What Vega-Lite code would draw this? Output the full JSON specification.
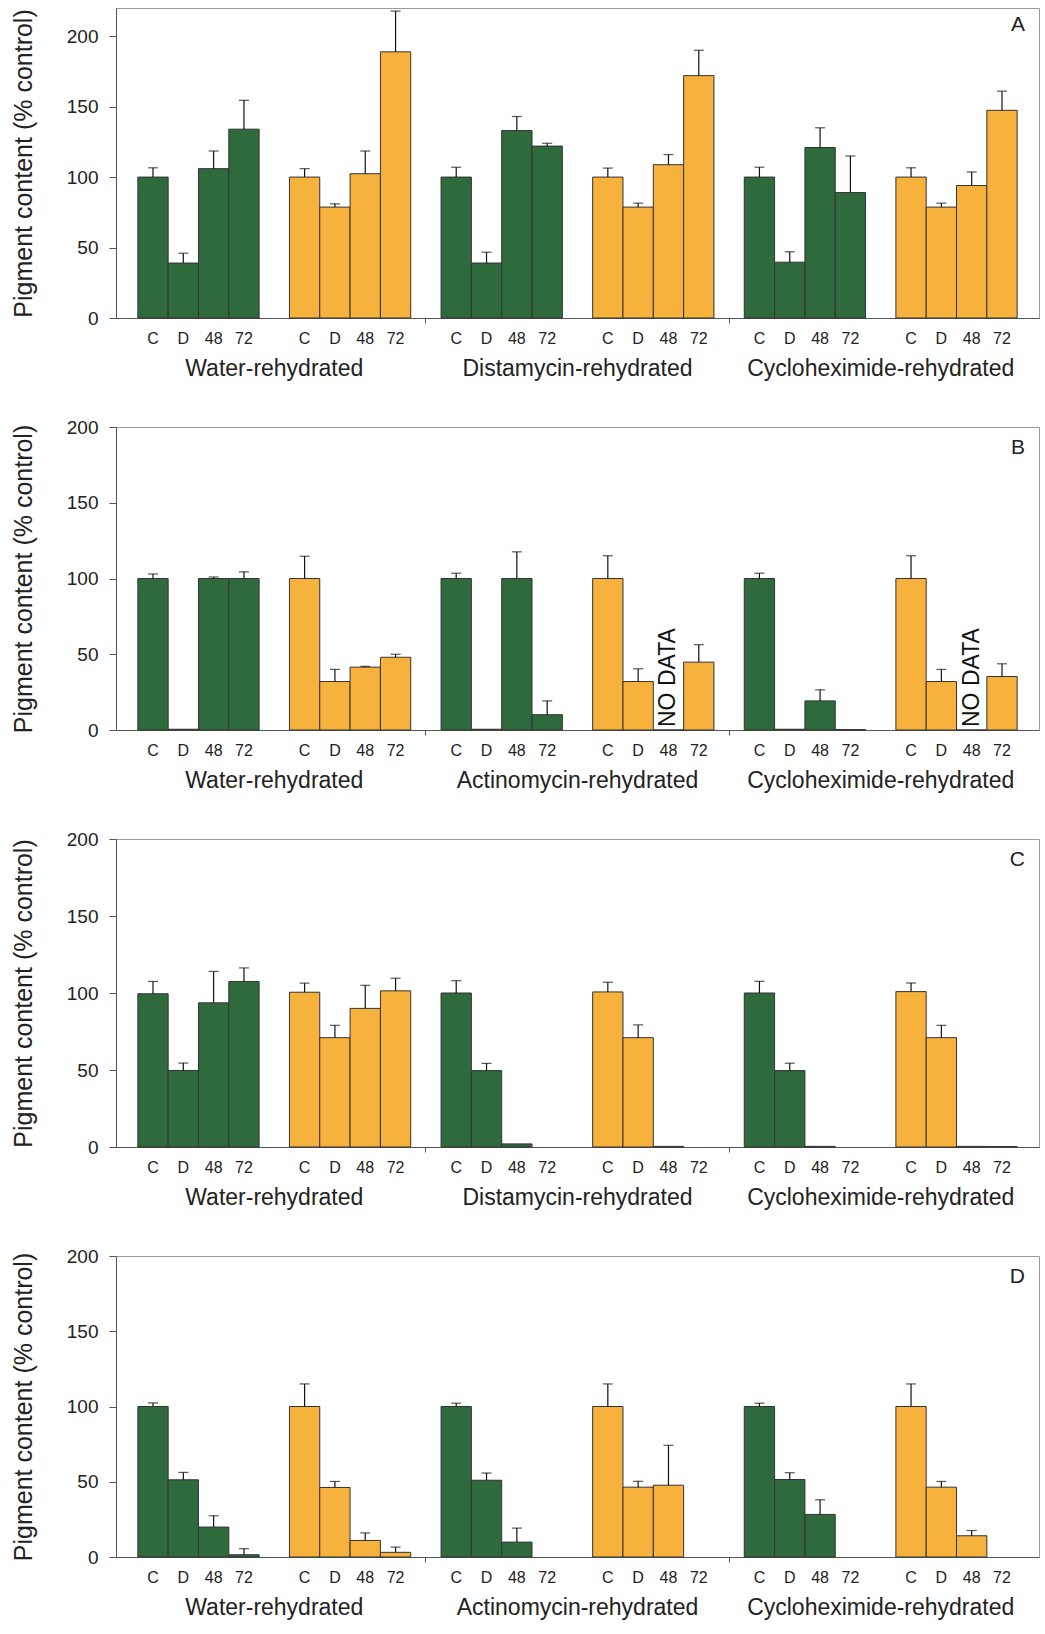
{
  "$schema": "https://vega.github.io/schema/vega-lite/v6.json",
  "background": "white",
  "padding": {"left": 10, "top": 7, "right": 5, "bottom": 2},
  "config": {
    "font": "Liberation Sans",
    "view": {"stroke": "#9a9a9a", "strokeWidth": 1},
    "concat": {"spacing": 36},
    "axisY": {"grid": false, "tickSize": 7, "labelPadding": 11, "labelFontSize": 19, "titleFontSize": 25, "titleFontWeight": "normal", "titlePadding": 30, "domainColor": "#555", "tickColor": "#555", "labelColor": "#222", "titleColor": "#222"},
    "axisX": {"labelAngle": 0, "labelColor": "#222", "labelOverlap": false, "domainColor": "#555", "tickColor": "#555", "labelLimit": 400}
  },
  "datasets": {
    "A": [
      {"key": "W-g-C", "set": "g", "value": 100, "upper": 106.6},
      {"key": "W-g-D", "set": "g", "value": 39, "upper": 46},
      {"key": "W-g-48", "set": "g", "value": 106, "upper": 118.5},
      {"key": "W-g-72", "set": "g", "value": 134, "upper": 154.5},
      {"key": "W-o-C", "set": "o", "value": 100, "upper": 106},
      {"key": "W-o-D", "set": "o", "value": 78.7, "upper": 81},
      {"key": "W-o-48", "set": "o", "value": 102.4, "upper": 118.5},
      {"key": "W-o-72", "set": "o", "value": 188.9, "upper": 217.8},
      {"key": "M-g-C", "set": "g", "value": 100, "upper": 107},
      {"key": "M-g-D", "set": "g", "value": 39, "upper": 46.7},
      {"key": "M-g-48", "set": "g", "value": 133, "upper": 143},
      {"key": "M-g-72", "set": "g", "value": 122, "upper": 124},
      {"key": "M-o-C", "set": "o", "value": 100, "upper": 106.4},
      {"key": "M-o-D", "set": "o", "value": 78.7, "upper": 81.5},
      {"key": "M-o-48", "set": "o", "value": 108.8, "upper": 116},
      {"key": "M-o-72", "set": "o", "value": 172, "upper": 190},
      {"key": "X-g-C", "set": "g", "value": 100, "upper": 107},
      {"key": "X-g-D", "set": "g", "value": 39.6, "upper": 47},
      {"key": "X-g-48", "set": "g", "value": 121, "upper": 135},
      {"key": "X-g-72", "set": "g", "value": 89, "upper": 115},
      {"key": "X-o-C", "set": "o", "value": 100, "upper": 106.6},
      {"key": "X-o-D", "set": "o", "value": 78.7, "upper": 81.5},
      {"key": "X-o-48", "set": "o", "value": 94, "upper": 103.6},
      {"key": "X-o-72", "set": "o", "value": 147.4, "upper": 161}
    ],
    "B": [
      {"key": "W-g-C", "set": "g", "value": 100, "upper": 103},
      {"key": "W-g-D", "set": "g", "value": 0.5, "upper": null},
      {"key": "W-g-48", "set": "g", "value": 100, "upper": 101},
      {"key": "W-g-72", "set": "g", "value": 100, "upper": 104.4},
      {"key": "W-o-C", "set": "o", "value": 100, "upper": 114.7},
      {"key": "W-o-D", "set": "o", "value": 32, "upper": 40},
      {"key": "W-o-48", "set": "o", "value": 41.5, "upper": 42},
      {"key": "W-o-72", "set": "o", "value": 48, "upper": 50},
      {"key": "M-g-C", "set": "g", "value": 100, "upper": 103.5},
      {"key": "M-g-D", "set": "g", "value": 0.5, "upper": null},
      {"key": "M-g-48", "set": "g", "value": 100, "upper": 117.6},
      {"key": "M-g-72", "set": "g", "value": 10.1, "upper": 19.2},
      {"key": "M-o-C", "set": "o", "value": 100, "upper": 115},
      {"key": "M-o-D", "set": "o", "value": 32, "upper": 40.4},
      {"key": "M-o-48", "set": "o", "value": 0, "upper": null, "note": "NO DATA"},
      {"key": "M-o-72", "set": "o", "value": 44.8, "upper": 56.3},
      {"key": "X-g-C", "set": "g", "value": 100, "upper": 103.5},
      {"key": "X-g-D", "set": "g", "value": 0.5, "upper": null},
      {"key": "X-g-48", "set": "g", "value": 19.2, "upper": 26.5},
      {"key": "X-g-72", "set": "g", "value": 0.3, "upper": null},
      {"key": "X-o-C", "set": "o", "value": 100, "upper": 115},
      {"key": "X-o-D", "set": "o", "value": 32, "upper": 40},
      {"key": "X-o-48", "set": "o", "value": 0, "upper": null, "note": "NO DATA"},
      {"key": "X-o-72", "set": "o", "value": 35.3, "upper": 43.7}
    ],
    "C": [
      {"key": "W-g-C", "set": "g", "value": 99.5, "upper": 107.5},
      {"key": "W-g-D", "set": "g", "value": 49.7, "upper": 54.5},
      {"key": "W-g-48", "set": "g", "value": 93.6, "upper": 114},
      {"key": "W-g-72", "set": "g", "value": 107.5, "upper": 116.3},
      {"key": "W-o-C", "set": "o", "value": 100.5, "upper": 106.4},
      {"key": "W-o-D", "set": "o", "value": 71, "upper": 79},
      {"key": "W-o-48", "set": "o", "value": 90, "upper": 105},
      {"key": "W-o-72", "set": "o", "value": 101.4, "upper": 109.6},
      {"key": "M-g-C", "set": "g", "value": 100, "upper": 108},
      {"key": "M-g-D", "set": "g", "value": 49.6, "upper": 54.3},
      {"key": "M-g-48", "set": "g", "value": 2, "upper": null},
      {"key": "M-o-C", "set": "o", "value": 100.7, "upper": 107},
      {"key": "M-o-D", "set": "o", "value": 71, "upper": 79.3},
      {"key": "M-o-48", "set": "o", "value": 0.4, "upper": null},
      {"key": "X-g-C", "set": "g", "value": 100, "upper": 107.6},
      {"key": "X-g-D", "set": "g", "value": 49.6, "upper": 54.4},
      {"key": "X-g-48", "set": "g", "value": 0.4, "upper": null},
      {"key": "X-o-C", "set": "o", "value": 100.9, "upper": 106.5},
      {"key": "X-o-D", "set": "o", "value": 71, "upper": 79},
      {"key": "X-o-48", "set": "o", "value": 0.4, "upper": null},
      {"key": "X-o-72", "set": "o", "value": 0.3, "upper": null}
    ],
    "D": [
      {"key": "W-g-C", "set": "g", "value": 100, "upper": 102.4},
      {"key": "W-g-D", "set": "g", "value": 51.3, "upper": 56.2},
      {"key": "W-g-48", "set": "g", "value": 19.9, "upper": 27.4},
      {"key": "W-g-72", "set": "g", "value": 1.5, "upper": 5.5},
      {"key": "W-o-C", "set": "o", "value": 100, "upper": 115},
      {"key": "W-o-D", "set": "o", "value": 46.2, "upper": 50.2},
      {"key": "W-o-48", "set": "o", "value": 11, "upper": 16},
      {"key": "W-o-72", "set": "o", "value": 3.1, "upper": 6.6},
      {"key": "M-g-C", "set": "g", "value": 100, "upper": 102.2},
      {"key": "M-g-D", "set": "g", "value": 51, "upper": 55.8},
      {"key": "M-g-48", "set": "g", "value": 9.9, "upper": 19.2},
      {"key": "M-o-C", "set": "o", "value": 100, "upper": 115},
      {"key": "M-o-D", "set": "o", "value": 46.4, "upper": 50.3},
      {"key": "M-o-48", "set": "o", "value": 47.7, "upper": 74.2},
      {"key": "X-g-C", "set": "g", "value": 100, "upper": 102.2},
      {"key": "X-g-D", "set": "g", "value": 51.5, "upper": 56},
      {"key": "X-g-48", "set": "g", "value": 28.3, "upper": 38},
      {"key": "X-o-C", "set": "o", "value": 100, "upper": 115},
      {"key": "X-o-D", "set": "o", "value": 46.4, "upper": 50.2},
      {"key": "X-o-48", "set": "o", "value": 14.1, "upper": 17.6}
    ]
  },
  "vconcat": [
    {
      "width": 923, "height": 310,
      "data": {"name": "A"},
      "title": {"text": "A", "anchor": "end", "frame": "group", "offset": -27, "dx": -14, "fontSize": 21, "fontWeight": "normal", "color": "#222"},
      "layer": [
        {
          "mark": {"type": "bar", "stroke": "#333", "strokeWidth": 1},
          "encoding": {
            "x": {"field": "key", "type": "nominal", "scale": {"domain": ["W-g-C","W-g-D","W-g-48","W-g-72","W-gap","W-o-C","W-o-D","W-o-48","W-o-72","S1","M-g-C","M-g-D","M-g-48","M-g-72","M-gap","M-o-C","M-o-D","M-o-48","M-o-72","S2","X-g-C","X-g-D","X-g-48","X-g-72","X-gap","X-o-C","X-o-D","X-o-48","X-o-72"], "paddingInner": 0, "paddingOuter": 0.72},
              "axis": {"title": null, "orient": "bottom", "labelExpr": "length(split(datum.value, '-')) == 3 ? split(datum.value, '-')[2] : ''", "labelFontSize": 16, "labelPadding": 7, "tickSize": 5, "tickOpacity": {"condition": {"test": "datum.value == 'S1' || datum.value == 'S2'", "value": 1}, "value": 0}}},
            "y": {"field": "value", "type": "quantitative", "scale": {"domain": [0, 220], "nice": false}, "axis": {"title": "Pigment content (% control)", "values": [0, 50, 100, 150, 200]}},
            "color": {"field": "set", "type": "nominal", "scale": {"domain": ["g", "o"], "range": ["#2e6a3c", "#f7b23e"]}, "legend": null}
          }
        },
        {
          "transform": [{"filter": "isValid(datum.upper)"}],
          "mark": {"type": "rule", "color": "#111", "strokeWidth": 1.2},
          "encoding": {
            "x": {"field": "key", "type": "nominal",
              "axis": {"title": null, "orient": "bottom", "labelExpr": "datum.value == 'W-gap' ? 'Water-rehydrated' : datum.value == 'M-gap' ? 'Distamycin-rehydrated' : datum.value == 'X-gap' ? 'Cycloheximide-rehydrated' : ''", "labelFontSize": 23, "labelPadding": 39, "ticks": false, "domain": false}},
            "y": {"field": "value", "type": "quantitative", "axis": {"title": "Pigment content (% control)", "values": [0, 50, 100, 150, 200]}},
            "y2": {"field": "upper"}
          }
        },
        {
          "transform": [{"filter": "isValid(datum.upper)"}],
          "mark": {"type": "tick", "color": "#111", "thickness": 1.2, "size": 10, "orient": "horizontal"},
          "encoding": {
            "x": {"field": "key", "type": "nominal", "axis": null},
            "y": {"field": "upper", "type": "quantitative", "axis": {"title": "Pigment content (% control)", "values": [0, 50, 100, 150, 200]}}
          }
        }
      ],
      "resolve": {"axis": {"x": "independent"}}
    },
    {
      "width": 923, "height": 303,
      "data": {"name": "B"},
      "title": {"text": "B", "anchor": "end", "frame": "group", "offset": -40, "dx": -14, "fontSize": 21, "fontWeight": "normal", "color": "#222"},
      "layer": [
        {
          "mark": {"type": "bar", "stroke": "#333", "strokeWidth": 1},
          "encoding": {
            "x": {"field": "key", "type": "nominal", "scale": {"domain": ["W-g-C","W-g-D","W-g-48","W-g-72","W-gap","W-o-C","W-o-D","W-o-48","W-o-72","S1","M-g-C","M-g-D","M-g-48","M-g-72","M-gap","M-o-C","M-o-D","M-o-48","M-o-72","S2","X-g-C","X-g-D","X-g-48","X-g-72","X-gap","X-o-C","X-o-D","X-o-48","X-o-72"], "paddingInner": 0, "paddingOuter": 0.72},
              "axis": {"title": null, "orient": "bottom", "labelExpr": "length(split(datum.value, '-')) == 3 ? split(datum.value, '-')[2] : ''", "labelFontSize": 16, "labelPadding": 7, "tickSize": 5, "tickOpacity": {"condition": {"test": "datum.value == 'S1' || datum.value == 'S2'", "value": 1}, "value": 0}}},
            "y": {"field": "value", "type": "quantitative", "scale": {"domain": [0, 200], "nice": false}, "axis": {"title": "Pigment content (% control)", "values": [0, 50, 100, 150, 200]}},
            "color": {"field": "set", "type": "nominal", "scale": {"domain": ["g", "o"], "range": ["#2e6a3c", "#f7b23e"]}, "legend": null}
          }
        },
        {
          "transform": [{"filter": "isValid(datum.upper)"}],
          "mark": {"type": "rule", "color": "#111", "strokeWidth": 1.2},
          "encoding": {
            "x": {"field": "key", "type": "nominal",
              "axis": {"title": null, "orient": "bottom", "labelExpr": "datum.value == 'W-gap' ? 'Water-rehydrated' : datum.value == 'M-gap' ? 'Actinomycin-rehydrated' : datum.value == 'X-gap' ? 'Cycloheximide-rehydrated' : ''", "labelFontSize": 23, "labelPadding": 39, "ticks": false, "domain": false}},
            "y": {"field": "value", "type": "quantitative", "axis": {"title": "Pigment content (% control)", "values": [0, 50, 100, 150, 200]}},
            "y2": {"field": "upper"}
          }
        },
        {
          "transform": [{"filter": "isValid(datum.upper)"}],
          "mark": {"type": "tick", "color": "#111", "thickness": 1.2, "size": 10, "orient": "horizontal"},
          "encoding": {
            "x": {"field": "key", "type": "nominal", "axis": null},
            "y": {"field": "upper", "type": "quantitative", "axis": {"title": "Pigment content (% control)", "values": [0, 50, 100, 150, 200]}}
          }
        },
        {
          "transform": [{"filter": "isValid(datum.note)"}],
          "mark": {"type": "text", "angle": 270, "align": "left", "baseline": "middle", "fontSize": 23, "color": "#111", "dx": 3},
          "encoding": {
            "x": {"field": "key", "type": "nominal", "axis": null},
            "y": {"field": "value", "type": "quantitative", "axis": {"title": "Pigment content (% control)", "values": [0, 50, 100, 150, 200]}},
            "text": {"field": "note"}
          }
        }
      ],
      "resolve": {"axis": {"x": "independent"}}
    },
    {
      "width": 923, "height": 308,
      "data": {"name": "C"},
      "title": {"text": "C", "anchor": "end", "frame": "group", "offset": -40, "dx": -14, "fontSize": 21, "fontWeight": "normal", "color": "#222"},
      "layer": [
        {
          "mark": {"type": "bar", "stroke": "#333", "strokeWidth": 1},
          "encoding": {
            "x": {"field": "key", "type": "nominal", "scale": {"domain": ["W-g-C","W-g-D","W-g-48","W-g-72","W-gap","W-o-C","W-o-D","W-o-48","W-o-72","S1","M-g-C","M-g-D","M-g-48","M-g-72","M-gap","M-o-C","M-o-D","M-o-48","M-o-72","S2","X-g-C","X-g-D","X-g-48","X-g-72","X-gap","X-o-C","X-o-D","X-o-48","X-o-72"], "paddingInner": 0, "paddingOuter": 0.72},
              "axis": {"title": null, "orient": "bottom", "labelExpr": "length(split(datum.value, '-')) == 3 ? split(datum.value, '-')[2] : ''", "labelFontSize": 16, "labelPadding": 7, "tickSize": 5, "tickOpacity": {"condition": {"test": "datum.value == 'S1' || datum.value == 'S2'", "value": 1}, "value": 0}}},
            "y": {"field": "value", "type": "quantitative", "scale": {"domain": [0, 200], "nice": false}, "axis": {"title": "Pigment content (% control)", "values": [0, 50, 100, 150, 200]}},
            "color": {"field": "set", "type": "nominal", "scale": {"domain": ["g", "o"], "range": ["#2e6a3c", "#f7b23e"]}, "legend": null}
          }
        },
        {
          "transform": [{"filter": "isValid(datum.upper)"}],
          "mark": {"type": "rule", "color": "#111", "strokeWidth": 1.2},
          "encoding": {
            "x": {"field": "key", "type": "nominal",
              "axis": {"title": null, "orient": "bottom", "labelExpr": "datum.value == 'W-gap' ? 'Water-rehydrated' : datum.value == 'M-gap' ? 'Distamycin-rehydrated' : datum.value == 'X-gap' ? 'Cycloheximide-rehydrated' : ''", "labelFontSize": 23, "labelPadding": 39, "ticks": false, "domain": false}},
            "y": {"field": "value", "type": "quantitative", "axis": {"title": "Pigment content (% control)", "values": [0, 50, 100, 150, 200]}},
            "y2": {"field": "upper"}
          }
        },
        {
          "transform": [{"filter": "isValid(datum.upper)"}],
          "mark": {"type": "tick", "color": "#111", "thickness": 1.2, "size": 10, "orient": "horizontal"},
          "encoding": {
            "x": {"field": "key", "type": "nominal", "axis": null},
            "y": {"field": "upper", "type": "quantitative", "axis": {"title": "Pigment content (% control)", "values": [0, 50, 100, 150, 200]}}
          }
        }
      ],
      "resolve": {"axis": {"x": "independent"}}
    },
    {
      "width": 923, "height": 301,
      "data": {"name": "D"},
      "title": {"text": "D", "anchor": "end", "frame": "group", "offset": -40, "dx": -14, "fontSize": 21, "fontWeight": "normal", "color": "#222"},
      "layer": [
        {
          "mark": {"type": "bar", "stroke": "#333", "strokeWidth": 1},
          "encoding": {
            "x": {"field": "key", "type": "nominal", "scale": {"domain": ["W-g-C","W-g-D","W-g-48","W-g-72","W-gap","W-o-C","W-o-D","W-o-48","W-o-72","S1","M-g-C","M-g-D","M-g-48","M-g-72","M-gap","M-o-C","M-o-D","M-o-48","M-o-72","S2","X-g-C","X-g-D","X-g-48","X-g-72","X-gap","X-o-C","X-o-D","X-o-48","X-o-72"], "paddingInner": 0, "paddingOuter": 0.72},
              "axis": {"title": null, "orient": "bottom", "labelExpr": "length(split(datum.value, '-')) == 3 ? split(datum.value, '-')[2] : ''", "labelFontSize": 16, "labelPadding": 7, "tickSize": 5, "tickOpacity": {"condition": {"test": "datum.value == 'S1' || datum.value == 'S2'", "value": 1}, "value": 0}}},
            "y": {"field": "value", "type": "quantitative", "scale": {"domain": [0, 200], "nice": false}, "axis": {"title": "Pigment content (% control)", "values": [0, 50, 100, 150, 200]}},
            "color": {"field": "set", "type": "nominal", "scale": {"domain": ["g", "o"], "range": ["#2e6a3c", "#f7b23e"]}, "legend": null}
          }
        },
        {
          "transform": [{"filter": "isValid(datum.upper)"}],
          "mark": {"type": "rule", "color": "#111", "strokeWidth": 1.2},
          "encoding": {
            "x": {"field": "key", "type": "nominal",
              "axis": {"title": null, "orient": "bottom", "labelExpr": "datum.value == 'W-gap' ? 'Water-rehydrated' : datum.value == 'M-gap' ? 'Actinomycin-rehydrated' : datum.value == 'X-gap' ? 'Cycloheximide-rehydrated' : ''", "labelFontSize": 23, "labelPadding": 39, "ticks": false, "domain": false}},
            "y": {"field": "value", "type": "quantitative", "axis": {"title": "Pigment content (% control)", "values": [0, 50, 100, 150, 200]}},
            "y2": {"field": "upper"}
          }
        },
        {
          "transform": [{"filter": "isValid(datum.upper)"}],
          "mark": {"type": "tick", "color": "#111", "thickness": 1.2, "size": 10, "orient": "horizontal"},
          "encoding": {
            "x": {"field": "key", "type": "nominal", "axis": null},
            "y": {"field": "upper", "type": "quantitative", "axis": {"title": "Pigment content (% control)", "values": [0, 50, 100, 150, 200]}}
          }
        }
      ],
      "resolve": {"axis": {"x": "independent"}}
    }
  ]
}
